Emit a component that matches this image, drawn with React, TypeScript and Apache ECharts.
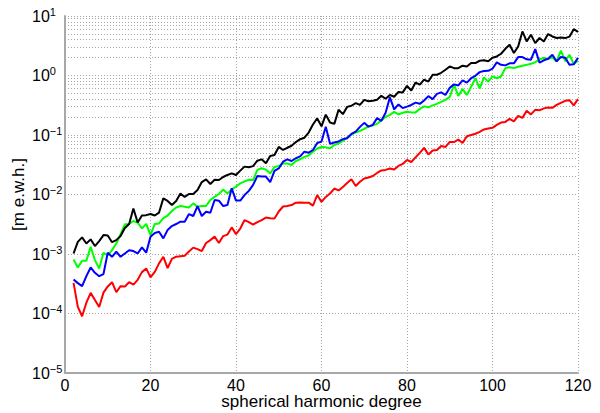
import React, { useEffect, useRef } from "react";
import * as echarts from "echarts";

// spherical harmonic degrees 2..120
const degrees: number[] = Array.from({ length: 119 }, (_, i) => i + 2);

// degree amplitudes [m e.w.h.], one value per degree
const blackValues: number[] = [
  1.02e-3, 1.6e-3, 1.9e-3, 1.5e-3, 1.76e-3, 1.36e-3, 1.65e-3, 2.08e-3, 2.05e-3, 1.58e-3,
  1.71e-3, 2.0e-3, 2.73e-3, 3.2e-3, 5.8e-3, 3.38e-3, 4.43e-3, 4.5e-3, 4.7e-3, 4.43e-3,
  4.97e-3, 8.6e-3, 7.8e-3, 6.65e-3, 7.8e-3, 1.04e-2, 9.1e-3, 1.02e-2, 1.02e-2, 1.19e-2,
  1.62e-2, 1.8e-2, 1.5e-2, 1.77e-2, 1.75e-2, 1.97e-2, 2.13e-2, 2.27e-2, 2.13e-2, 2.52e-2,
  2.94e-2, 2.87e-2, 3.0e-2, 3.7e-2, 3.9e-2, 3.35e-2, 4.45e-2, 4.6e-2, 6.3e-2, 5.6e-2,
  6.1e-2, 6.6e-2, 7.6e-2, 8.5e-2, 9.0e-2, 0.11, 0.15, 0.19, 0.14, 0.22,
  0.162, 0.154, 0.265, 0.224, 0.297, 0.31, 0.343, 0.32, 0.39, 0.37,
  0.375, 0.39, 0.455, 0.406, 0.47, 0.44, 0.53, 0.52, 0.67, 0.56,
  0.76, 0.7, 0.85, 0.79, 1.03, 1.03, 1.11, 1.25, 1.42, 1.33,
  1.33, 1.46, 1.42, 1.62, 1.62, 1.77, 1.8, 1.73, 1.99, 2.09,
  2.32, 2.81, 3.28, 2.39, 3.07, 5.5, 3.74, 4.83, 3.5, 4.27,
  3.74, 4.98, 4.53, 4.27, 4.36, 4.25, 4.5, 6.0, 5.4,
];

const blueValues: number[] = [
  3.74e-4, 3.24e-4, 2.88e-4, 4.24e-4, 5.94e-4, 4.83e-4, 4.24e-4, 4.6e-4, 1.05e-3, 8.98e-4,
  1.09e-3, 8.98e-4, 1.02e-3, 1.16e-3, 1.12e-3, 1.02e-3, 1.29e-3, 1.05e-3, 1.95e-3, 2.25e-3,
  2.36e-3, 1.83e-3, 2.53e-3, 2.95e-3, 3.19e-3, 3.49e-3, 3.49e-3, 4.69e-3, 4.35e-3, 6.4e-3,
  4.35e-3, 5.13e-3, 4.94e-3, 8.1e-3, 7.88e-3, 6.4e-3, 6.66e-3, 1.27e-2, 7.9e-3, 7.9e-3,
  9.8e-3, 1.15e-2, 1.45e-2, 2.05e-2, 2.0e-2, 2.0e-2, 1.62e-2, 2.49e-2, 2.74e-2, 3.56e-2,
  3.9e-2, 3.66e-2, 4.07e-2, 4.36e-2, 5.25e-2, 5.05e-2, 5.6e-2, 7.35e-2, 7.75e-2, 0.138,
  7.1e-2, 7.5e-2, 7.8e-2, 8.5e-2, 8.8e-2, 0.104, 0.114, 0.137, 0.16, 0.138,
  0.148, 0.192, 0.173, 0.236, 0.43, 0.27, 0.327, 0.283, 0.3, 0.32,
  0.35, 0.334, 0.38, 0.45, 0.4, 0.49, 0.52, 0.47, 0.62, 0.71,
  0.68, 0.83, 0.76, 0.9, 0.99, 1.14, 1.19, 1.2, 1.3, 1.66,
  1.51, 1.48, 1.6, 1.6, 2.04, 2.04, 1.87, 1.84, 2.78, 1.64,
  1.8, 1.91, 2.23, 1.73, 2.04, 1.99, 1.51, 1.54, 1.99,
];

const greenValues: number[] = [
  8.1e-4, 5.94e-4, 7.7e-4, 7.7e-4, 1.32e-3, 7.9e-4, 5.72e-4, 1.05e-3, 9.5e-4, 1.16e-3,
  1.5e-3, 2.16e-3, 3.15e-3, 3.2e-3, 3.58e-3, 3.37e-3, 2.7e-3, 3.2e-3, 2.08e-3, 3.2e-3,
  3.27e-3, 4.02e-3, 4.43e-3, 5.27e-3, 6.04e-3, 6.4e-3, 6.2e-3, 6.04e-3, 7.1e-3, 6.2e-3,
  6.4e-3, 6.4e-3, 8.1e-3, 9.1e-3, 1.02e-2, 1.21e-2, 1.04e-2, 1.21e-2, 1.36e-2, 1.54e-2,
  1.66e-2, 1.77e-2, 1.75e-2, 2.59e-2, 2.76e-2, 2.62e-2, 2.26e-2, 2.9e-2, 3.0e-2, 3.33e-2,
  3.33e-2, 3.14e-2, 3.66e-2, 3.91e-2, 4.28e-2, 4.53e-2, 5.25e-2, 5.94e-2, 6.3e-2, 6.2e-2,
  5.98e-2, 6.8e-2, 7.2e-2, 7.95e-2, 9.1e-2, 0.102, 0.111, 0.117, 0.127, 0.14,
  0.145, 0.154, 0.176, 0.202, 0.218, 0.245, 0.222, 0.236, 0.245, 0.24,
  0.24, 0.275, 0.303, 0.292, 0.315, 0.334, 0.36, 0.39, 0.438, 0.7,
  0.455, 0.59, 0.47, 0.645, 0.9, 0.6, 0.93, 0.79, 0.97, 0.9,
  0.96, 1.33, 1.38, 1.33, 1.4, 1.46, 1.51, 1.57, 1.67, 1.87,
  1.97, 1.89, 2.02, 1.72, 2.63, 1.74, 2.23, 1.57, 1.77,
];

const redValues: number[] = [
  3.28e-4, 1.29e-4, 9.0e-5, 1.52e-4, 2.22e-4, 1.69e-4, 1.29e-4, 2.24e-4, 2.85e-4, 3.36e-4,
  2.28e-4, 2.88e-4, 2.85e-4, 3.36e-4, 3.06e-4, 3.68e-4, 4.96e-4, 5.72e-4, 4.04e-4, 5.0e-4,
  6.95e-4, 8.98e-4, 5.78e-4, 8.3e-4, 9.0e-4, 9.2e-4, 9.35e-4, 1.1e-3, 1.28e-3, 1.21e-3,
  1.12e-3, 1.53e-3, 1.71e-3, 1.96e-3, 1.53e-3, 2.0e-3, 2.12e-3, 2.8e-3, 2.16e-3, 2.68e-3,
  3.72e-3, 3.44e-3, 3.13e-3, 3.44e-3, 3.72e-3, 4.1e-3, 4.0e-3, 3.95e-3, 5.18e-3, 6.28e-3,
  6.4e-3, 6.65e-3, 7.3e-3, 7.35e-3, 7.3e-3, 7.3e-3, 6.5e-3, 9.8e-3, 7.5e-3, 9.1e-3,
  1.04e-2, 1.26e-2, 1.17e-2, 1.34e-2, 1.56e-2, 1.8e-2, 1.39e-2, 1.64e-2, 1.86e-2, 1.93e-2,
  2.05e-2, 2.3e-2, 2.54e-2, 2.59e-2, 2.74e-2, 2.63e-2, 3.02e-2, 3.26e-2, 3.81e-2, 3.52e-2,
  4.2e-2, 5.0e-2, 6.07e-2, 4.72e-2, 5.5e-2, 5.6e-2, 6.55e-2, 6.3e-2, 7.65e-2, 7.6e-2,
  8.4e-2, 7.35e-2, 9.5e-2, 0.1, 0.105, 0.113, 0.124, 0.129, 0.132, 0.148,
  0.162, 0.166, 0.187, 0.17, 0.21, 0.194, 0.255, 0.222, 0.265, 0.26,
  0.28, 0.29, 0.286, 0.32, 0.347, 0.375, 0.385, 0.315, 0.4,
];

const xTicks: number[] = [0, 20, 40, 60, 80, 100, 120];
const decadeExponents: number[] = [-5, -4, -3, -2, -1, 0];
const minorMantissas: number[] = [2, 3, 4, 5, 6, 7, 8, 9];

const FONT = "'Liberation Sans', Arial, Helvetica, sans-serif";
const GRID_COLOR = "#a6a6a6";
const AXIS_COLOR = "#a8a8a8";

function pairs(values: number[]): [number, number][] {
  return degrees.map((d, i) => [d, values[i]]);
}

function expLabel(v: number): string {
  const e = Math.round(Math.log10(v));
  const s = e < 0 ? "\u2212" + String(-e) : String(e);
  return "{b|10}{e|" + s + "}";
}

export default function App() {
  const ref = useRef<HTMLDivElement>(null);

  useEffect(() => {
    if (!ref.current) return;
    const chart = echarts.init(ref.current, undefined, { renderer: "svg" });

    // dotted minor grid at 2..9 within each decade
    const minorLines: { yAxis: number }[] = [];
    decadeExponents.forEach((e) => {
      minorMantissas.forEach((m) => {
        minorLines.push({ yAxis: m * Math.pow(10, e) });
      });
    });

    const lineSeries = (name: string, color: string, values: number[], z: number) => ({
      name,
      type: "line",
      data: pairs(values),
      showSymbol: false,
      symbol: "none",
      z,
      lineStyle: { color, width: 2 },
      itemStyle: { color },
    });

    const blackSeries: any = lineSeries("black", "#000000", blackValues, 5);
    blackSeries.markLine = {
      silent: true,
      symbol: "none",
      z: 1,
      label: { show: false },
      lineStyle: { color: GRID_COLOR, width: 1, type: [1, 2] },
      emphasis: { disabled: true },
      data: minorLines,
    };

    chart.setOption({
      animation: false,
      grid: {
        left: 65,
        right: 22,
        top: 16,
        bottom: 40,
        containLabel: false,
        outerBoundsMode: "none",
      },
      xAxis: {
        type: "value",
        min: xTicks[0],
        max: xTicks[xTicks.length - 1],
        interval: 20,
        name: "spherical harmonic degree",
        nameLocation: "middle",
        nameGap: 20,
        nameMoveOverlap: false,
        nameTextStyle: { fontFamily: FONT, fontSize: 17, color: "#000" },
        axisLine: { show: true, lineStyle: { color: AXIS_COLOR, width: 2 } },
        axisTick: { show: false },
        axisLabel: { fontFamily: FONT, fontSize: 16, color: "#000", margin: 4 },
        splitLine: { show: true, lineStyle: { color: GRID_COLOR, width: 1, type: [1, 2] } },
      },
      yAxis: {
        type: "log",
        logBase: 10,
        min: 1e-5,
        max: 10,
        interval: 1,
        name: "[m e.w.h.]",
        nameLocation: "middle",
        nameRotate: 90,
        nameGap: 38,
        nameMoveOverlap: false,
        nameTextStyle: { fontFamily: FONT, fontSize: 17, color: "#000" },
        axisLine: { show: true, lineStyle: { color: AXIS_COLOR, width: 2 } },
        axisTick: { show: false },
        axisLabel: {
          align: "left",
          margin: 33,
          formatter: expLabel,
          rich: {
            b: { fontFamily: FONT, fontSize: 16, color: "#000" },
            e: { fontFamily: FONT, fontSize: 11, color: "#000", padding: [0, 0, 9, 0] },
          },
        },
        splitLine: { show: true, lineStyle: { color: GRID_COLOR, width: 1, type: [1, 2] } },
      },
      series: [
        blackSeries,
        lineSeries("green", "#00ff00", greenValues, 3),
        lineSeries("blue", "#0000ff", blueValues, 4),
        lineSeries("red", "#ff0000", redValues, 2),
      ],
    });

    return () => chart.dispose();
  }, []);

  return (
    <div
      ref={ref}
      style={{ position: "absolute", left: 0, top: 0, width: 600, height: 413 }}
    />
  );
}
